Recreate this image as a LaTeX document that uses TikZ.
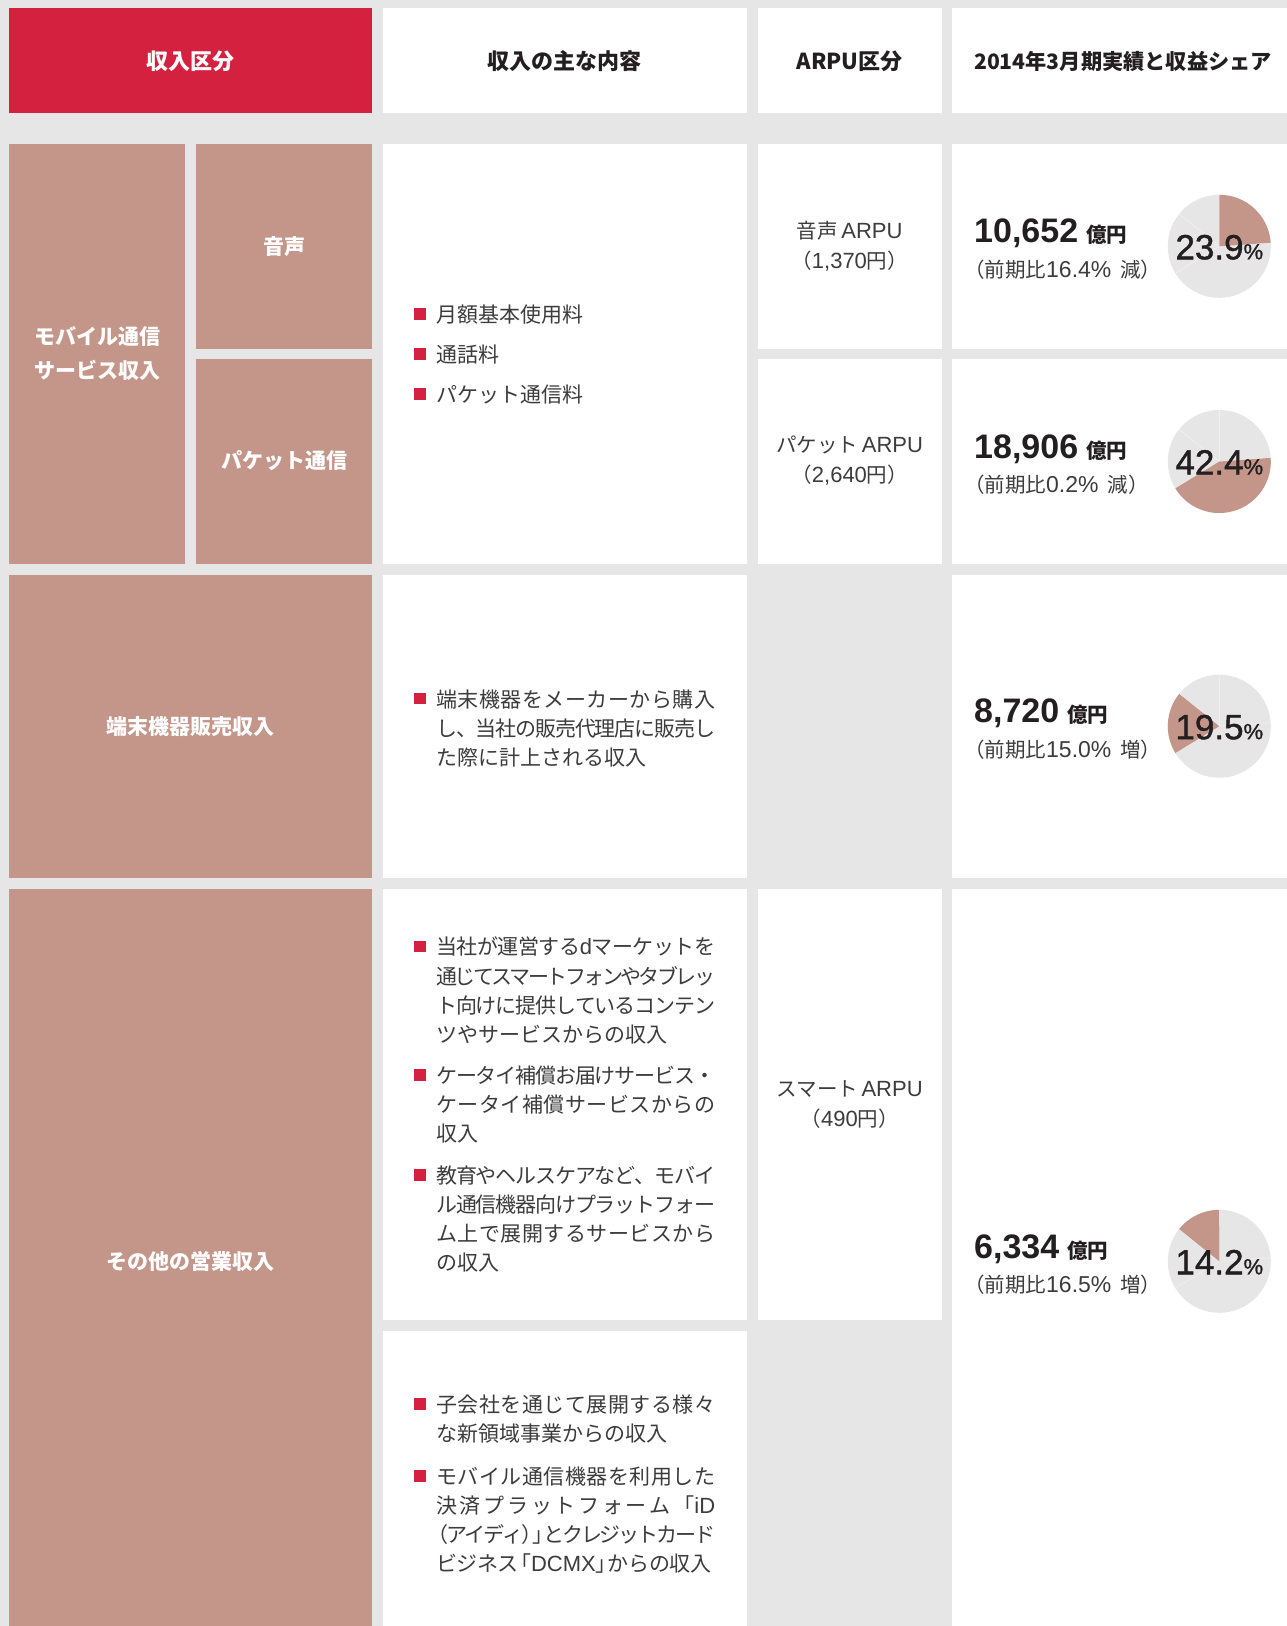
\documentclass[tikz,border=0pt]{standalone}
\usepackage{fontspec}
\setmainfont{Noto Sans CJK JP}
\newfontfamily\la{Liberation Sans}
\newfontfamily\lamd[FakeBold=1.2]{Liberation Sans}
\definecolor{bgc}{HTML}{E6E6E6}
\definecolor{hdred}{HTML}{D3213F}
\definecolor{rose}{HTML}{C4968A}
\definecolor{ink}{HTML}{231F20}
\definecolor{txt}{HTML}{3C3C3C}
\definecolor{faint}{HTML}{EFEFEF}
\newcommand\latx[2][22]{{\la\fontsize{#1}{#1}\selectfont #2}}
\makeatletter
\let\jl@stop\relax
\def\jl@stopm{\jl@stop}
\newcommand\jl[2][279pt]{\makebox[#1][s]{\jl@a#2\jl@stop}}
\def\jl@a#1{\def\jl@t{#1}\ifx\jl@t\jl@stopm\unskip\else{#1}\hskip0pt plus1fil minus1fil\relax\expandafter\jl@a\fi}
\makeatother
\newcommand\bignum[1]{{\la\bfseries\fontsize{34}{40}\selectfont #1}\hspace{8pt}{\bfseries\fontsize{20.5}{26}\selectfont 億円}}
\newcommand\pct[1]{{\lamd\fontsize{35}{40}\selectfont #1}{\lamd\fontsize{22}{26}\selectfont\%}}
\begin{document}
\begin{tikzpicture}[x=1pt,y=-1pt,
  hd/.style={font=\bfseries\fontsize{22}{26}\selectfont,text=ink,inner sep=0pt},
  lbl/.style={font=\bfseries\fontsize{21}{34}\selectfont,text=white,inner sep=0pt,align=center},
  bl/.style={font=\fontsize{21}{26}\selectfont,text=txt,inner sep=0pt,anchor=base west},
  arpu/.style={font=\fontsize{20.5}{30}\selectfont,text=txt,inner sep=0pt,align=center},
  num/.style={text=ink,inner sep=0pt,anchor=base west},
  sub/.style={font=\fontsize{20.5}{26}\selectfont,text=txt,inner sep=0pt,anchor=base west},
  pctn/.style={text=ink,inner sep=0pt,anchor=base},
  sq/.style={fill=hdred,minimum size=11.4pt,inner sep=0pt,outer sep=0pt}
]
\useasboundingbox (0,0) rectangle (1287,1626);
\fill[bgc] (0,0) rectangle (1287,1626);
% header
\fill[hdred] (9.3,8.3) rectangle (372,113);
\fill[white] (383,8.3) rectangle (746.5,113);
\fill[white] (757.5,8.3) rectangle (942,113);
\fill[white] (952,8.3) rectangle (1287,113);
% rows 1-2
\fill[rose] (9.3,144.2) rectangle (185,563.5);
\fill[rose] (196,144.2) rectangle (372,348.8);
\fill[rose] (196,358.8) rectangle (372,563.5);
\fill[white] (383,144.2) rectangle (746.5,563.5);
\fill[white] (757.5,144.2) rectangle (942,348.8);
\fill[white] (757.5,358.8) rectangle (942,563.5);
\fill[white] (952,144.2) rectangle (1287,348.8);
\fill[white] (952,358.8) rectangle (1287,563.5);
% row 3
\fill[rose] (9.3,575.3) rectangle (372,877.6);
\fill[white] (383,575.3) rectangle (746.5,877.6);
\fill[white] (952,575.3) rectangle (1287,877.6);
% row 4
\fill[rose] (9.3,889) rectangle (372,1626);
\fill[white] (383,889) rectangle (746.5,1320);
\fill[white] (383,1331) rectangle (746.5,1626);
\fill[white] (757.5,889) rectangle (942,1320);
\fill[white] (952,889) rectangle (1287,1626);

% header texts
\node[hd,text=white] (h1) at (190.7,61) {収入区分};
\node[hd] (h2) at (564.7,61) {収入の主な内容};
\node[hd] (h3) at (849.7,61) {ARPU区分};
\node[hd,font=\bfseries\fontsize{21.2}{26}\selectfont] (h4) at (1123,61) {2014年3月期実績と収益シェア};

% column 1 labels
\node[lbl] (c1a) at (97.2,354) {モバイル通信\\サービス収入};
\node[lbl] (c1b) at (284,246.5) {音声};
\node[lbl] (c1c) at (284,461) {パケット通信};
\node[lbl] (c1d) at (190.7,726.5) {端末機器販売収入};
\node[lbl] (c1e) at (190.7,1261) {その他の営業収入};

% column 2 bullets
\node[sq] (q1) at (420,314) {};
\node[bl] (t1) at (436,322) {月額基本使用料};
\node[sq] (q2) at (420,354) {};
\node[bl] (t2) at (436,362) {通話料};
\node[sq] (q3) at (420,394) {};
\node[bl] (t3) at (436,402) {パケット通信料};

\node[sq] (q4) at (420,698.5) {};
\node[bl] (t4a) at (436,707.5) {\jl{端末機器をメーカーから購入}};
\node[bl] (t4b) at (436,736.5) {\jl{し、当社の販売代理店に販売し}};
\node[bl] (t4c) at (436,765.5) {た際に計上される収入};

\node[sq] (q5) at (420,946.7) {};
\node[bl] (t5a) at (436,954.7) {\jl{当社が運営する{\latx{d}}マーケットを}};
\node[bl] (t5b) at (436,984) {\jl{通じてスマートフォンやタブレッ}};
\node[bl] (t5c) at (436,1013.3) {\jl{ト向けに提供しているコンテン}};
\node[bl] (t5d) at (436,1042.6) {ツやサービスからの収入};

\node[sq] (q6) at (420,1075) {};
\node[bl] (t6a) at (436,1083) {\jl{ケータイ補償お届けサービス・}};
\node[bl] (t6b) at (436,1112.3) {\jl{ケータイ補償サービスからの}};
\node[bl] (t6c) at (436,1141.6) {収入};

\node[sq] (q7) at (420,1175) {};
\node[bl] (t7a) at (436,1183) {\jl{教育やヘルスケアなど、モバイ}};
\node[bl] (t7b) at (436,1212.3) {\jl{ル通信機器向けプラットフォー}};
\node[bl] (t7c) at (436,1241.6) {\jl{ム上で展開するサービスから}};
\node[bl] (t7d) at (436,1270.9) {の収入};

\node[sq] (q8) at (420,1404) {};
\node[bl] (t8a) at (436,1412) {\jl{子会社を通じて展開する様々}};
\node[bl] (t8b) at (436,1441) {な新領域事業からの収入};

\node[sq] (q9) at (420,1476) {};
\node[bl] (t9a) at (436,1484) {\jl{モバイル通信機器を利用した}};
\node[bl] (t9b) at (436,1513) {\jl{決済プラットフォーム{「\latx{iD}}}};
\node[bl] (t9c) at (436,1542.5) {\jl{{\kern-9pt（}アイディ{）\kern-10pt」\kern-8pt}とクレジットカード}};
\node[bl] (t9d) at (436,1571.5) {\jl[275pt]{ビジネス{\kern-8.5pt「\latx{DCMX}」\kern-8.5pt}からの収入}};

% column 3 ARPU
\node[arpu] (a1) at (849.7,246.7) {音声\,\latx{ARPU}\\（\latx{1,370}円）};
\node[arpu] (a2) at (849.7,461) {パケット\,\latx{ARPU}\\（\latx{2,640}円）};
\node[arpu] (a3) at (849.7,1105) {スマート\,\latx{ARPU}\\（\latx{490}円）};

% column 4 pies
\foreach \cy/\sa/\ea in {246.3/-90/-4, 461.5/-4/148.6, 726.2/148.6/218.8, 1261.3/-141.2/-90.1}{
  \fill[bgc] (1219.3,\cy) circle[radius=51.5];
  \foreach \ang in {-90,-4,148.6,-141.2}{
    \draw[faint,line width=0.8pt] (1219.3,\cy) -- ++(\ang:51.5);
  }
  \fill[rose] (1219.3,\cy) -- ++(\sa:51.5) arc[start angle=\sa,end angle=\ea,radius=51.5] -- cycle;
}

\node[num] (n1) at (974,242.8) {\bignum{10,652}};
\node[sub] (s1) at (964,277.5) {（前期比\latx[23]{16.4\%}\hspace{9pt}減）};
\node[pctn] (p1) at (1219.3,259.3) {\pct{23.9}};

\node[num] (n2) at (974,458.3) {\bignum{18,906}};
\node[sub] (s2) at (964,492.5) {（前期比\latx[23]{0.2\%}\hspace{9pt}減）};
\node[pctn] (p2) at (1219.3,474.5) {\pct{42.4}};

\node[num] (n3) at (974,722.7) {\bignum{8,720}};
\node[sub] (s3) at (964,757.2) {（前期比\latx[23]{15.0\%}\hspace{9pt}増）};
\node[pctn] (p3) at (1219.3,739.2) {\pct{19.5}};

\node[num] (n4) at (974,1258) {\bignum{6,334}};
\node[sub] (s4) at (964,1292.3) {（前期比\latx[23]{16.5\%}\hspace{9pt}増）};
\node[pctn] (p4) at (1219.3,1274.3) {\pct{14.2}};
\end{tikzpicture}
\end{document}
